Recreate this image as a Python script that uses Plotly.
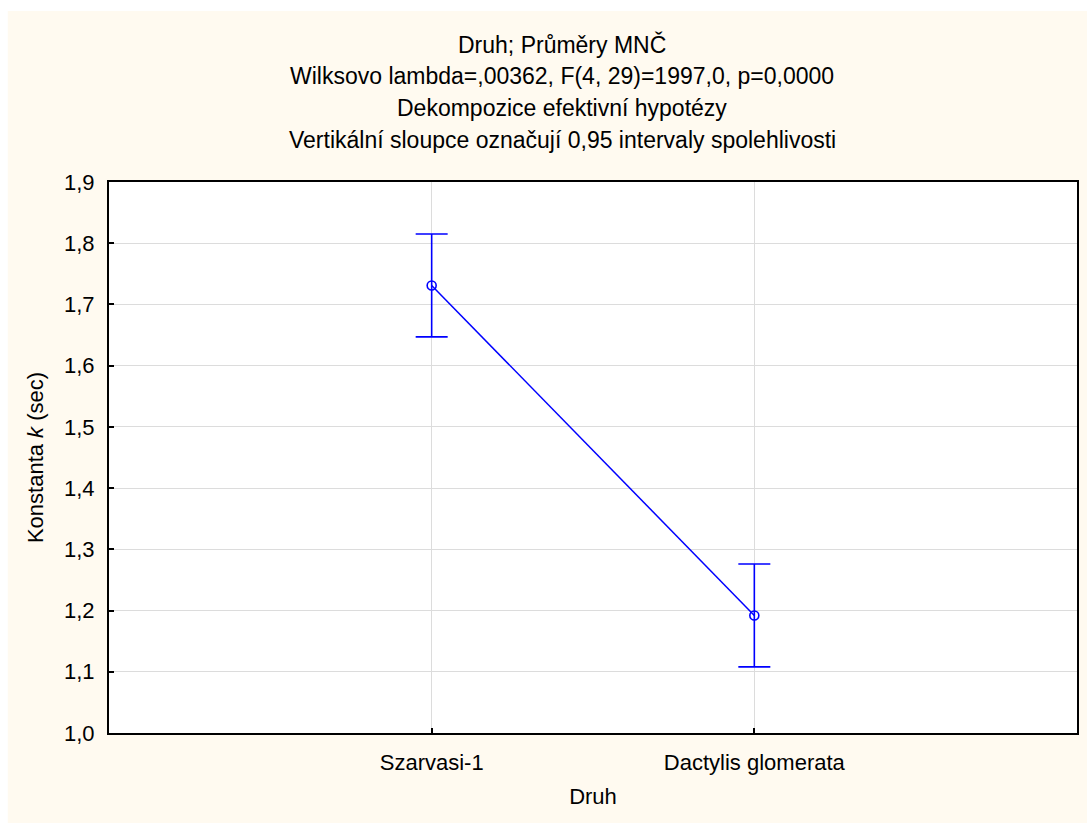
import plotly.graph_objects as go

# Least-squares means of k by species with 0.95 confidence half-widths
druh = ["Szarvasi-1", "Dactylis glomerata"]
prumer = [1.731, 1.192]
ci95 = [0.084, 0.084]

y_ticks = [1.0, 1.1, 1.2, 1.3, 1.4, 1.5, 1.6, 1.7, 1.8, 1.9]
y_tick_text = ["1,0", "1,1", "1,2", "1,3", "1,4", "1,5", "1,6", "1,7", "1,8", "1,9"]

title_lines = [
    "Druh; Průměry MNČ",
    "Wilksovo lambda=,00362, F(4, 29)=1997,0, p=0,0000",
    "Dekompozice efektivní hypotézy",
    "Vertikální sloupce označují 0,95 intervaly spolehlivosti",
]

W, H = 1089, 825
L, R, T, B = 108.5, 10, 182, 92
pw, ph = W - L - R, H - T - B

def px_x(x):
    return (x - L) / pw

def px_y(y):
    return (H - B - y) / ph

FONT = "Liberation Sans, Arial, sans-serif"
BLUE = "#0000FF"

fig = go.Figure()
fig.add_trace(go.Scatter(
    x=druh, y=prumer,
    mode="lines+markers",
    line=dict(color=BLUE, width=1.5),
    marker=dict(symbol="circle-open", size=9, color=BLUE, line=dict(width=1.6)),
    error_y=dict(type="data", array=ci95, visible=True, color=BLUE,
                 thickness=1.6, width=16),
    showlegend=False,
    hoverinfo="skip",
))

shapes = [
    # cream page background
    dict(type="rect", xref="paper", yref="paper",
         x0=px_x(7), x1=px_x(1089), y0=px_y(823), y1=px_y(11),
         fillcolor="#FFFAF0", line=dict(width=0), layer="below"),
    # white plotting area
    dict(type="rect", xref="paper", yref="paper",
         x0=0, x1=1, y0=0, y1=1,
         fillcolor="white", line=dict(width=0), layer="below"),
]

annotations = []
for i, txt in enumerate(title_lines):
    annotations.append(dict(
        text=txt, xref="paper", yref="paper",
        x=px_x(563), y=px_y(44 + i * 32),
        xanchor="center", yanchor="middle", showarrow=False,
        font=dict(family=FONT, size=23, color="black"),
    ))

fig.update_layout(
    width=W, height=H,
    margin=dict(l=L, r=R, t=T, b=B, pad=0),
    paper_bgcolor="white",
    plot_bgcolor="white",
    font=dict(family=FONT, size=22, color="black"),
    shapes=shapes,
    annotations=annotations,
    xaxis=dict(
        type="category",
        range=[-1, 2],
        showgrid=True, gridcolor="#DCDCDC", gridwidth=1,
        showline=True, linecolor="black", linewidth=2, mirror=True,
        ticks="inside", ticklen=5, tickwidth=2, tickcolor="black",
        ticklabelstandoff=9,
        title=dict(text="Druh", standoff=14, font=dict(size=22)),
        zeroline=False,
    ),
    yaxis=dict(
        range=[1.0, 1.9],
        tickvals=y_ticks, ticktext=y_tick_text,
        showgrid=True, gridcolor="#DCDCDC", gridwidth=1,
        showline=True, linecolor="black", linewidth=2, mirror=True,
        ticks="inside", ticklen=5, tickwidth=2, tickcolor="black",
        ticklabelstandoff=8,
        title=dict(text="Konstanta <i>k</i> (sec)", standoff=14, font=dict(size=22)),
        zeroline=False,
    ),
)

fig.write_html("out.html")
